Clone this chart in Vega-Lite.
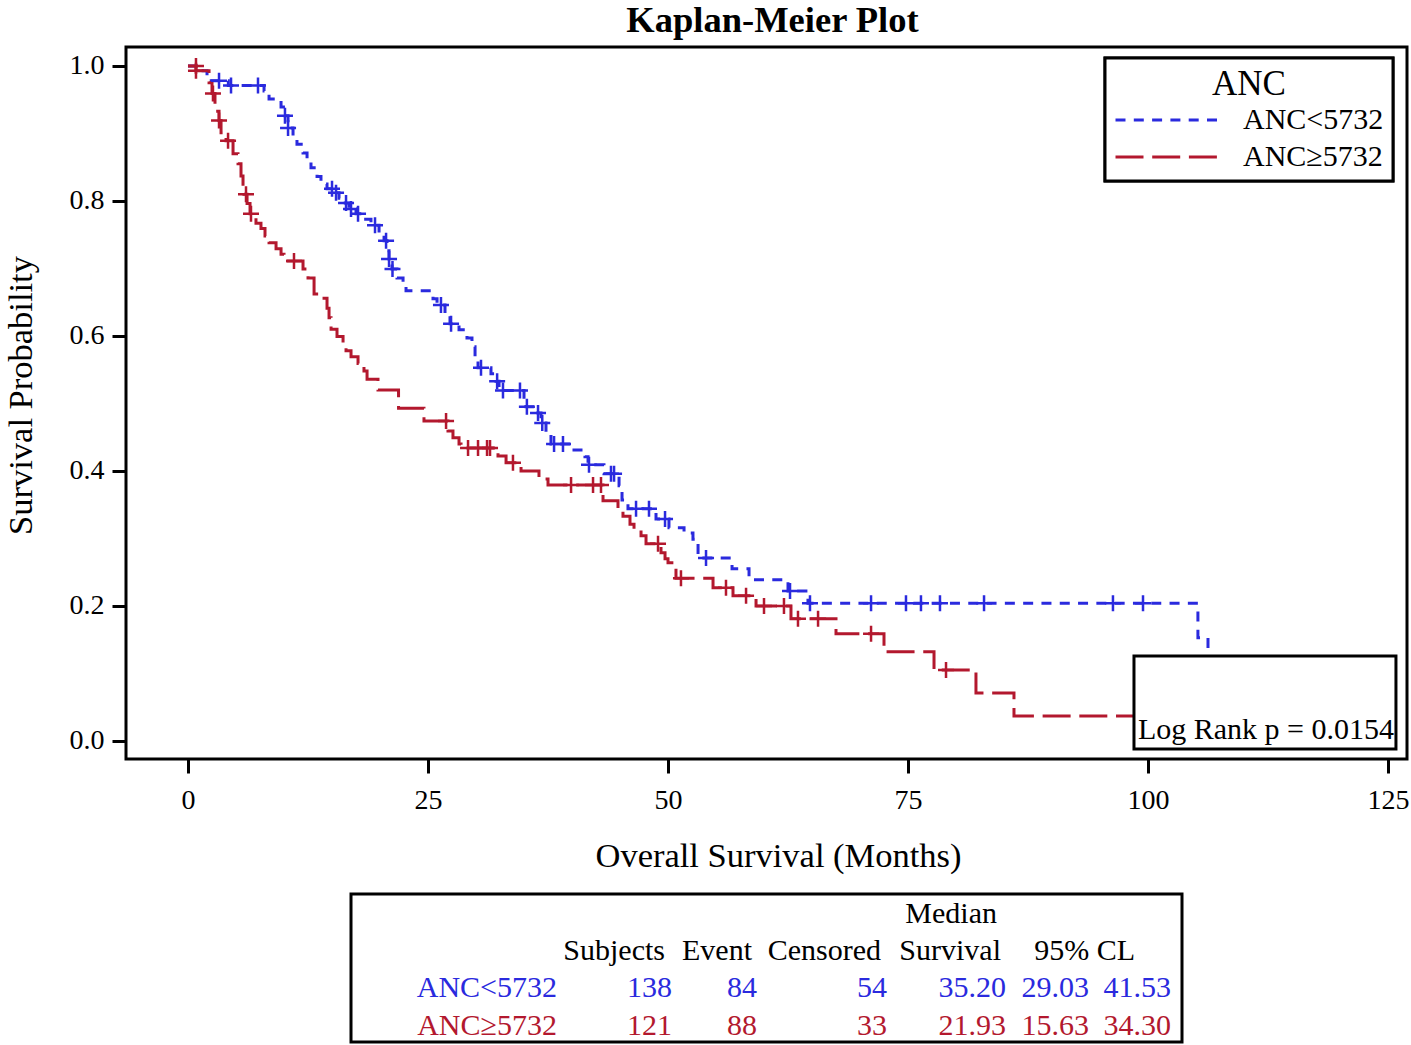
{
  "$schema": "https://vega.github.io/schema/vega-lite/v6.json",
  "background": "white",
  "padding": {"left": 1, "top": 1, "right": 2, "bottom": 2},
  "config": {
    "font": "Liberation Serif",
    "view": {"stroke": "black", "strokeWidth": 3},
    "axis": {
      "domain": false, "grid": false, "tickColor": "black", "tickWidth": 3, "tickSize": 14,
      "labelFont": "Liberation Serif", "labelFontSize": 28, "labelColor": "black",
      "titleFont": "Liberation Serif", "titleFontSize": 34.5, "titleFontWeight": "normal", "titleColor": "black"
    },
    "legend": {
      "direction": "vertical",
      "titleFont": "Liberation Serif", "titleFontSize": 35, "titleFontWeight": "normal", "titleColor": "black",
      "titleAnchor": "middle", "titlePadding": 6,
      "labelFont": "Liberation Serif", "labelFontSize": 30, "labelColor": "black", "labelOffset": 24,
      "symbolType": "stroke", "symbolSize": 10404, "symbolStrokeWidth": 3, "clipHeight": 24,
      "strokeColor": "black", "strokeWidth": 3, "fillColor": "white", "padding": 9, "rowPadding": 7
    }
  },
  "resolve": {"scale": {"color": "independent"}, "legend": {"color": "independent"}},
  "vconcat": [
    {
      "width": 1281,
      "height": 712,
      "title": {"text": "Kaplan-Meier Plot", "font": "Liberation Serif", "fontSize": 36.5, "fontWeight": "bold", "color": "black", "anchor": "middle", "offset": 8, "dx": 6},
      "layer": [
        {
          "data": {"values": [
            {"g":"ANC<5732","t":0,"s":1.0},{"g":"ANC<5732","t":1.15,"s":0.993},{"g":"ANC<5732","t":1.98,"s":0.978},{"g":"ANC<5732","t":4.2,"s":0.971},
            {"g":"ANC<5732","t":7.92,"s":0.963},{"g":"ANC<5732","t":8.44,"s":0.951},{"g":"ANC<5732","t":9.69,"s":0.939},{"g":"ANC<5732","t":10.1,"s":0.926},
            {"g":"ANC<5732","t":10.42,"s":0.908},{"g":"ANC<5732","t":10.94,"s":0.893},{"g":"ANC<5732","t":11.35,"s":0.884},{"g":"ANC<5732","t":11.98,"s":0.871},
            {"g":"ANC<5732","t":12.4,"s":0.859},{"g":"ANC<5732","t":12.81,"s":0.849},{"g":"ANC<5732","t":13.44,"s":0.836},{"g":"ANC<5732","t":13.85,"s":0.825},
            {"g":"ANC<5732","t":14.48,"s":0.818},{"g":"ANC<5732","t":15.1,"s":0.812},{"g":"ANC<5732","t":15.73,"s":0.804},{"g":"ANC<5732","t":16.15,"s":0.797},
            {"g":"ANC<5732","t":16.77,"s":0.788},{"g":"ANC<5732","t":17.5,"s":0.781},{"g":"ANC<5732","t":18.23,"s":0.773},{"g":"ANC<5732","t":19.06,"s":0.764},
            {"g":"ANC<5732","t":19.9,"s":0.753},{"g":"ANC<5732","t":20.42,"s":0.741},{"g":"ANC<5732","t":20.73,"s":0.726},{"g":"ANC<5732","t":20.94,"s":0.714},
            {"g":"ANC<5732","t":21.25,"s":0.699},{"g":"ANC<5732","t":21.77,"s":0.686},{"g":"ANC<5732","t":22.4,"s":0.676},{"g":"ANC<5732","t":22.71,"s":0.667},
            {"g":"ANC<5732","t":25.52,"s":0.655},{"g":"ANC<5732","t":25.94,"s":0.646},{"g":"ANC<5732","t":26.77,"s":0.633},{"g":"ANC<5732","t":27.29,"s":0.618},
            {"g":"ANC<5732","t":28.23,"s":0.609},{"g":"ANC<5732","t":29.06,"s":0.597},{"g":"ANC<5732","t":29.58,"s":0.584},{"g":"ANC<5732","t":29.9,"s":0.569},
            {"g":"ANC<5732","t":30.21,"s":0.553},{"g":"ANC<5732","t":31.56,"s":0.544},{"g":"ANC<5732","t":32.08,"s":0.533},{"g":"ANC<5732","t":32.4,"s":0.519},
            {"g":"ANC<5732","t":35.0,"s":0.507},{"g":"ANC<5732","t":35.2,"s":0.495},{"g":"ANC<5732","t":36.46,"s":0.486},{"g":"ANC<5732","t":36.77,"s":0.471},
            {"g":"ANC<5732","t":37.29,"s":0.456},{"g":"ANC<5732","t":37.81,"s":0.44},{"g":"ANC<5732","t":39.9,"s":0.431},{"g":"ANC<5732","t":41.35,"s":0.421},
            {"g":"ANC<5732","t":41.67,"s":0.409},{"g":"ANC<5732","t":43.33,"s":0.396},{"g":"ANC<5732","t":44.9,"s":0.378},{"g":"ANC<5732","t":45.21,"s":0.357},
            {"g":"ANC<5732","t":45.83,"s":0.344},{"g":"ANC<5732","t":48.75,"s":0.329},{"g":"ANC<5732","t":50.1,"s":0.316},{"g":"ANC<5732","t":51.67,"s":0.308},
            {"g":"ANC<5732","t":52.6,"s":0.299},{"g":"ANC<5732","t":53.13,"s":0.271},{"g":"ANC<5732","t":56.67,"s":0.255},{"g":"ANC<5732","t":58.44,"s":0.239},
            {"g":"ANC<5732","t":62.5,"s":0.222},{"g":"ANC<5732","t":64.58,"s":0.204},{"g":"ANC<5732","t":105.2,"s":0.153},{"g":"ANC<5732","t":106.25,"s":0.10},
            {"g":"ANC<5732","t":107,"s":0.10},
            {"g":"ANC≥5732","t":0,"s":1.0},{"g":"ANC≥5732","t":0.83,"s":0.993},{"g":"ANC≥5732","t":2.19,"s":0.975},{"g":"ANC≥5732","t":2.5,"s":0.959},
            {"g":"ANC≥5732","t":2.81,"s":0.933},{"g":"ANC≥5732","t":3.23,"s":0.919},{"g":"ANC≥5732","t":3.44,"s":0.901},{"g":"ANC≥5732","t":3.96,"s":0.889},
            {"g":"ANC≥5732","t":4.69,"s":0.87},{"g":"ANC≥5732","t":5.21,"s":0.855},{"g":"ANC≥5732","t":5.52,"s":0.837},{"g":"ANC≥5732","t":5.73,"s":0.822},
            {"g":"ANC≥5732","t":5.83,"s":0.81},{"g":"ANC≥5732","t":6.15,"s":0.796},{"g":"ANC≥5732","t":6.46,"s":0.781},{"g":"ANC≥5732","t":7.08,"s":0.767},
            {"g":"ANC≥5732","t":7.6,"s":0.759},{"g":"ANC≥5732","t":8.02,"s":0.748},{"g":"ANC≥5732","t":8.44,"s":0.738},{"g":"ANC≥5732","t":9.17,"s":0.729},
            {"g":"ANC≥5732","t":9.69,"s":0.721},{"g":"ANC≥5732","t":10.0,"s":0.711},{"g":"ANC≥5732","t":11.98,"s":0.699},{"g":"ANC≥5732","t":12.5,"s":0.686},
            {"g":"ANC≥5732","t":13.13,"s":0.662},{"g":"ANC≥5732","t":14.17,"s":0.656},{"g":"ANC≥5732","t":14.48,"s":0.641},{"g":"ANC≥5732","t":14.69,"s":0.627},
            {"g":"ANC≥5732","t":14.9,"s":0.61},{"g":"ANC≥5732","t":15.52,"s":0.599},{"g":"ANC≥5732","t":16.15,"s":0.59},{"g":"ANC≥5732","t":16.46,"s":0.578},
            {"g":"ANC≥5732","t":16.98,"s":0.569},{"g":"ANC≥5732","t":17.71,"s":0.559},{"g":"ANC≥5732","t":18.33,"s":0.548},{"g":"ANC≥5732","t":18.65,"s":0.536},
            {"g":"ANC≥5732","t":19.79,"s":0.52},{"g":"ANC≥5732","t":21.93,"s":0.493},{"g":"ANC≥5732","t":24.58,"s":0.474},{"g":"ANC≥5732","t":27.08,"s":0.459},
            {"g":"ANC≥5732","t":27.6,"s":0.449},{"g":"ANC≥5732","t":28.23,"s":0.44},{"g":"ANC≥5732","t":28.44,"s":0.434},{"g":"ANC≥5732","t":32.29,"s":0.422},
            {"g":"ANC≥5732","t":33.13,"s":0.412},{"g":"ANC≥5732","t":34.69,"s":0.4},{"g":"ANC≥5732","t":36.56,"s":0.388},{"g":"ANC≥5732","t":37.5,"s":0.379},
            {"g":"ANC≥5732","t":43.23,"s":0.356},{"g":"ANC≥5732","t":44.79,"s":0.341},{"g":"ANC≥5732","t":45.31,"s":0.333},{"g":"ANC≥5732","t":46.04,"s":0.321},
            {"g":"ANC≥5732","t":46.46,"s":0.314},{"g":"ANC≥5732","t":47.19,"s":0.304},{"g":"ANC≥5732","t":47.71,"s":0.292},{"g":"ANC≥5732","t":49.27,"s":0.279},
            {"g":"ANC≥5732","t":49.69,"s":0.27},{"g":"ANC≥5732","t":50.0,"s":0.264},{"g":"ANC≥5732","t":50.83,"s":0.241},{"g":"ANC≥5732","t":54.69,"s":0.227},
            {"g":"ANC≥5732","t":56.77,"s":0.215},{"g":"ANC≥5732","t":59.17,"s":0.2},{"g":"ANC≥5732","t":62.81,"s":0.181},{"g":"ANC≥5732","t":67.5,"s":0.159},
            {"g":"ANC≥5732","t":72.5,"s":0.132},{"g":"ANC≥5732","t":77.71,"s":0.105},{"g":"ANC≥5732","t":82.08,"s":0.071},{"g":"ANC≥5732","t":86.04,"s":0.037},
            {"g":"ANC≥5732","t":104,"s":0.037}
          ]},
          "mark": {"type": "line", "interpolate": "step-after", "strokeWidth": 3, "strokeCap": "butt"},
          "encoding": {
            "x": {"field": "t", "type": "quantitative", "scale": {"domain": [-6.46, 126.98], "nice": false, "zero": false},
                  "axis": {"title": "Overall Survival (Months)", "values": [0, 25, 50, 75, 100, 125], "labelPadding": 13, "titlePadding": 25, "titleX": 652}},
            "y": {"field": "s", "type": "quantitative", "scale": {"domain": [-0.0267, 1.028], "nice": false, "zero": false},
                  "axis": {"title": "Survival Probability", "values": [0, 0.2, 0.4, 0.6, 0.8, 1.0], "format": ".1f", "labelPadding": 8, "titlePadding": 31, "titleY": 348}},
            "color": {"field": "g", "type": "nominal", "title": "ANC",
                      "scale": {"domain": ["ANC<5732", "ANC≥5732"], "range": ["#2a2ade", "#b3182e"]},
                      "legend": {"orient": "none", "legendX": 979, "legendY": 11}},
            "strokeDash": {"field": "g", "type": "nominal", "title": "ANC",
                      "scale": {"domain": ["ANC<5732", "ANC≥5732"], "range": [[10, 8.3], [28, 8.7]]},
                      "legend": {"orient": "none", "legendX": 979, "legendY": 11}}
          }
        },
        {
          "data": {"values": [
            {"g":"ANC<5732","t":3.23,"s":0.978},{"g":"ANC<5732","t":4.48,"s":0.971},{"g":"ANC<5732","t":7.29,"s":0.971},{"g":"ANC<5732","t":10.1,"s":0.926},
            {"g":"ANC<5732","t":10.42,"s":0.908},{"g":"ANC<5732","t":15.0,"s":0.818},{"g":"ANC<5732","t":15.42,"s":0.812},{"g":"ANC<5732","t":16.46,"s":0.797},
            {"g":"ANC<5732","t":16.98,"s":0.788},{"g":"ANC<5732","t":17.71,"s":0.781},{"g":"ANC<5732","t":19.48,"s":0.764},{"g":"ANC<5732","t":20.63,"s":0.741},
            {"g":"ANC<5732","t":20.94,"s":0.714},{"g":"ANC<5732","t":21.3,"s":0.699},{"g":"ANC<5732","t":26.35,"s":0.646},{"g":"ANC<5732","t":27.4,"s":0.618},
            {"g":"ANC<5732","t":30.52,"s":0.553},{"g":"ANC<5732","t":32.2,"s":0.533},{"g":"ANC<5732","t":32.81,"s":0.519},{"g":"ANC<5732","t":34.58,"s":0.519},
            {"g":"ANC<5732","t":35.3,"s":0.495},{"g":"ANC<5732","t":36.46,"s":0.486},{"g":"ANC<5732","t":36.9,"s":0.471},{"g":"ANC<5732","t":38.13,"s":0.44},
            {"g":"ANC<5732","t":39.06,"s":0.44},{"g":"ANC<5732","t":41.77,"s":0.409},{"g":"ANC<5732","t":44.06,"s":0.396},{"g":"ANC<5732","t":44.38,"s":0.396},
            {"g":"ANC<5732","t":46.67,"s":0.344},{"g":"ANC<5732","t":48.02,"s":0.344},{"g":"ANC<5732","t":49.69,"s":0.329},{"g":"ANC<5732","t":53.96,"s":0.271},
            {"g":"ANC<5732","t":62.71,"s":0.222},{"g":"ANC<5732","t":64.79,"s":0.204},{"g":"ANC<5732","t":71.15,"s":0.204},{"g":"ANC<5732","t":74.79,"s":0.204},
            {"g":"ANC<5732","t":76.35,"s":0.204},{"g":"ANC<5732","t":78.33,"s":0.204},{"g":"ANC<5732","t":82.92,"s":0.204},{"g":"ANC<5732","t":96.35,"s":0.204},
            {"g":"ANC<5732","t":99.48,"s":0.204},
            {"g":"ANC≥5732","t":0.83,"s":1.0},{"g":"ANC≥5732","t":0.83,"s":0.993},{"g":"ANC≥5732","t":2.6,"s":0.959},{"g":"ANC≥5732","t":3.23,"s":0.919},
            {"g":"ANC≥5732","t":4.17,"s":0.889},{"g":"ANC≥5732","t":6.04,"s":0.81},{"g":"ANC≥5732","t":6.56,"s":0.781},{"g":"ANC≥5732","t":11.04,"s":0.711},
            {"g":"ANC≥5732","t":26.88,"s":0.474},{"g":"ANC≥5732","t":29.17,"s":0.434},{"g":"ANC≥5732","t":30.21,"s":0.434},{"g":"ANC≥5732","t":31.15,"s":0.434},
            {"g":"ANC≥5732","t":31.46,"s":0.434},{"g":"ANC≥5732","t":33.85,"s":0.412},{"g":"ANC≥5732","t":39.9,"s":0.379},{"g":"ANC≥5732","t":42.19,"s":0.379},
            {"g":"ANC≥5732","t":43.02,"s":0.379},{"g":"ANC≥5732","t":48.96,"s":0.292},{"g":"ANC≥5732","t":51.35,"s":0.241},{"g":"ANC≥5732","t":56.04,"s":0.227},
            {"g":"ANC≥5732","t":58.13,"s":0.215},{"g":"ANC≥5732","t":60.0,"s":0.2},{"g":"ANC≥5732","t":62.08,"s":0.2},{"g":"ANC≥5732","t":63.54,"s":0.181},
            {"g":"ANC≥5732","t":65.63,"s":0.181},{"g":"ANC≥5732","t":71.15,"s":0.159},{"g":"ANC≥5732","t":78.96,"s":0.105}
          ]},
          "mark": {"type": "point", "shape": "M-1,0L1,0M0,-1L0,1", "filled": false, "size": 256, "strokeWidth": 2.5, "opacity": 1},
          "encoding": {
            "x": {"field": "t", "type": "quantitative"},
            "y": {"field": "s", "type": "quantitative"},
            "stroke": {"field": "g", "type": "nominal", "legend": null,
                       "scale": {"domain": ["ANC<5732", "ANC≥5732"], "range": ["#2a2ade", "#b3182e"]}}
          }
        },
        {
          "data": {"values": [{"box": "logrank"}]},
          "mark": {"type": "rect", "fill": "white", "stroke": "black", "strokeWidth": 3},
          "encoding": {
            "x": {"datum": 98.54, "type": "quantitative"},
            "x2": {"datum": 125.83},
            "y": {"datum": 0.126, "type": "quantitative"},
            "y2": {"datum": -0.012}
          }
        },
        {
          "data": {"values": [{"label": "Log Rank p = 0.0154"}]},
          "mark": {"type": "text", "align": "left", "baseline": "alphabetic", "font": "Liberation Serif", "fontSize": 30, "color": "black"},
          "encoding": {
            "x": {"datum": 98.95, "type": "quantitative"},
            "y": {"datum": 0.003, "type": "quantitative"},
            "text": {"field": "label", "type": "nominal"}
          }
        }
      ]
    },
    {
      "width": 831,
      "height": 148,
      "data": {"values": [
        {"ri": 0, "ci": 7, "txt": "Median", "grp": "header"},
        {"ri": 1, "ci": 1, "txt": "Subjects", "grp": "header"},
        {"ri": 1, "ci": 3, "txt": "Event", "grp": "header"},
        {"ri": 1, "ci": 5, "txt": "Censored", "grp": "header"},
        {"ri": 1, "ci": 8, "txt": "Survival", "grp": "header"},
        {"ri": 1, "ci": 11, "txt": "95% CL", "grp": "header"},
        {"ri": 2, "ci": 0, "txt": "ANC<5732", "grp": "ANC<5732"},
        {"ri": 2, "ci": 2, "txt": "138", "grp": "ANC<5732"},
        {"ri": 2, "ci": 4, "txt": "84", "grp": "ANC<5732"},
        {"ri": 2, "ci": 6, "txt": "54", "grp": "ANC<5732"},
        {"ri": 2, "ci": 9, "txt": "35.20", "grp": "ANC<5732"},
        {"ri": 2, "ci": 10, "txt": "29.03", "grp": "ANC<5732"},
        {"ri": 2, "ci": 12, "txt": "41.53", "grp": "ANC<5732"},
        {"ri": 3, "ci": 0, "txt": "ANC≥5732", "grp": "ANC≥5732"},
        {"ri": 3, "ci": 2, "txt": "121", "grp": "ANC≥5732"},
        {"ri": 3, "ci": 4, "txt": "88", "grp": "ANC≥5732"},
        {"ri": 3, "ci": 6, "txt": "33", "grp": "ANC≥5732"},
        {"ri": 3, "ci": 9, "txt": "21.93", "grp": "ANC≥5732"},
        {"ri": 3, "ci": 10, "txt": "15.63", "grp": "ANC≥5732"},
        {"ri": 3, "ci": 12, "txt": "34.30", "grp": "ANC≥5732"}
      ]},
      "mark": {"type": "text", "align": "right", "baseline": "alphabetic", "font": "Liberation Serif", "fontSize": 30},
      "encoding": {
        "x": {"field": "ci", "type": "quantitative", "axis": null,
              "scale": {"domain": [0, 1, 2, 3, 4, 5, 6, 7, 8, 9, 10, 11, 12], "range": [206, 314, 321, 401, 406, 530, 536, 646, 650, 655, 738, 784, 820], "nice": false, "zero": false}},
        "y": {"field": "ri", "type": "quantitative", "axis": null,
              "scale": {"domain": [0, 1, 2, 3], "range": [29, 66, 103, 141], "nice": false, "zero": false}},
        "text": {"field": "txt", "type": "nominal"},
        "color": {"field": "grp", "type": "nominal", "legend": null,
                  "scale": {"domain": ["header", "ANC<5732", "ANC≥5732"], "range": ["black", "#2a2ade", "#b3182e"]}}
      }
    }
  ],
  "spacing": 135,
  "bounds": "flush",
  "center": true
}
